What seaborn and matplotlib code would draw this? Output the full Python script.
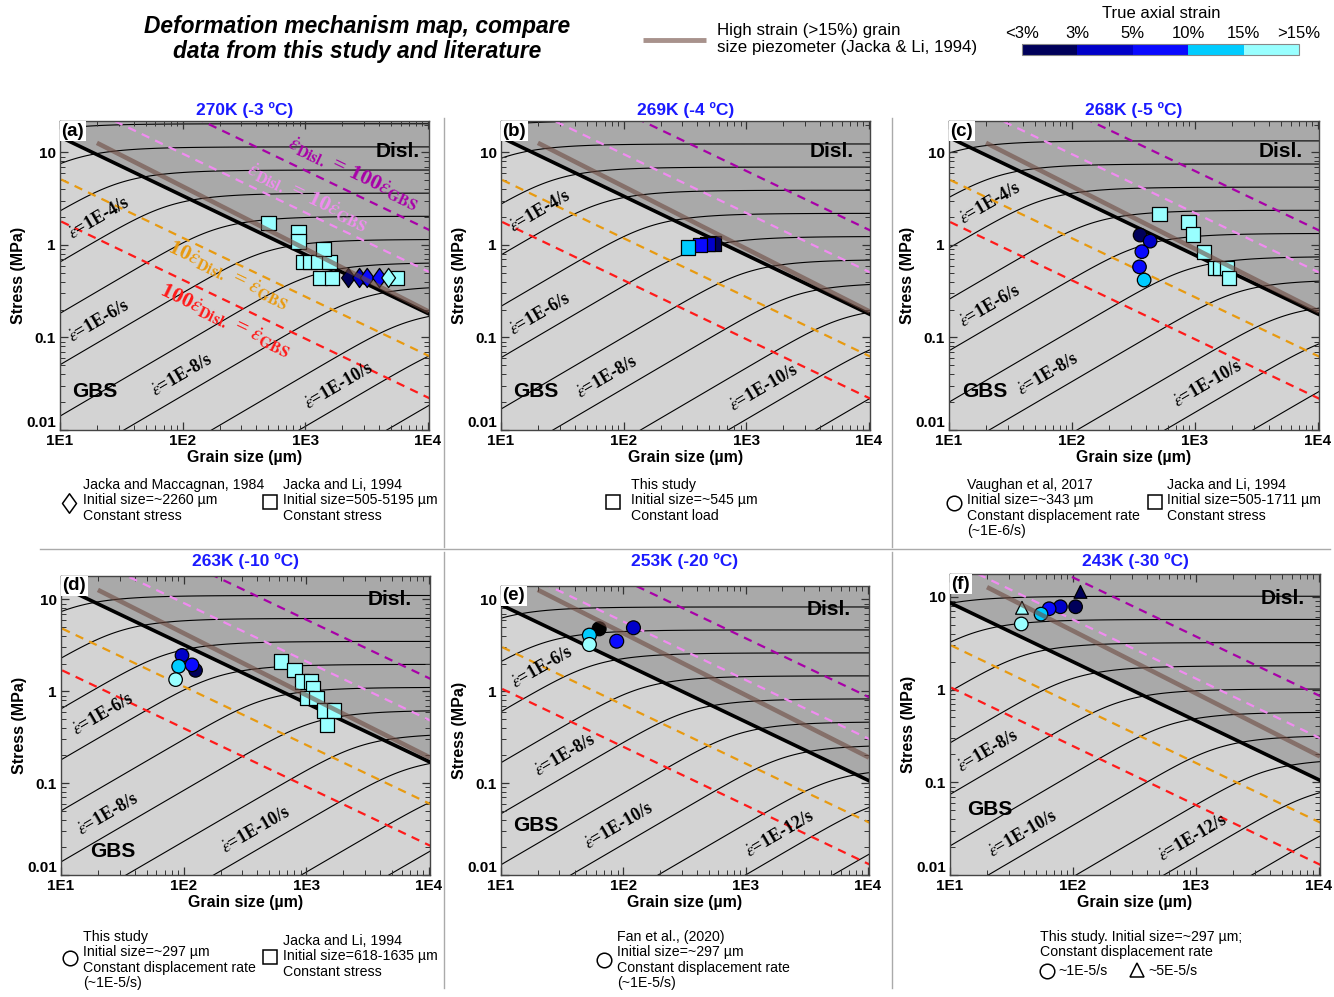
"""
Deformation mechanism maps of ice (GBS vs dislocation creep) at six temperatures,
with data from this study and the literature plotted on top.
"""

import matplotlib

matplotlib.use("Agg")
import matplotlib.colors as mcolors
import matplotlib.lines as mlines
import matplotlib.pyplot as plt
import numpy as np
import seaborn as sns
from matplotlib.cm import ScalarMappable
from matplotlib.path import Path
from matplotlib.ticker import NullFormatter

plt.rcParams["font.family"] = ["Liberation Sans", "DejaVu Sans"]
plt.rcParams["mathtext.fontset"] = "stix"

W, H = 1334, 997

# ---------------------------------------------------------------- data
panel_letters = ["(a)", "(b)", "(c)", "(d)", "(e)", "(f)"]
panel_titles = ["270K (-3 ºC)", "269K (-4 ºC)", "268K (-5 ºC)",
                "263K (-10 ºC)", "253K (-20 ºC)", "243K (-30 ºC)"]

# flow law: rate = a_disl*s^4 + b_gbs*s^1.8*(d/1000um)^-1.4  (calibrated on the maps)
a_disl = [5.73e-7, 4.28e-7, 3.15e-7, 6.72e-8, 2.13e-8, 9.5e-9]
b_gbs = [3.39e-7, 2.47e-7, 1.81e-7, 3.49e-8, 3.97e-9, 1.72e-9]
n_disl, n_gbs, p_gbs = 4.0, 1.8, 1.4

# ratio lines  rate_disl / rate_gbs
ratio_values = [100, 10, 0.1, 0.01]
ratio_colors = ["#a800a8", "#f08cf0", "#e89a10", "#ff1a1a"]
ratio_labels = [r"$\dot{\varepsilon}_{\mathbf{Disl.}}$ = 100$\dot{\varepsilon}_{\mathbf{GBS}}$",
                r"$\dot{\varepsilon}_{\mathbf{Disl.}}$ = 10$\dot{\varepsilon}_{\mathbf{GBS}}$",
                r"10$\dot{\varepsilon}_{\mathbf{Disl.}}$ = $\dot{\varepsilon}_{\mathbf{GBS}}$",
                r"100$\dot{\varepsilon}_{\mathbf{Disl.}}$ = $\dot{\varepsilon}_{\mathbf{GBS}}$"]
ratio_label_d = [2440, 1030, 234, 221]
ratio_label_s = [6.0, 3.3, 0.48, 0.153]

# high strain piezometer (Jacka & Li, 1994)
piezo_d = [20, 1.02e4]
piezo_s = [12.7, 0.19]

# strain-rate contour labels
label_rates = [[1e-4, 1e-6, 1e-8, 1e-10], [1e-4, 1e-6, 1e-8, 1e-10],
               [1e-4, 1e-6, 1e-8, 1e-10], [1e-6, 1e-8, 1e-10],
               [1e-6, 1e-8, 1e-10, 1e-12], [1e-8, 1e-10, 1e-12]]
label_d = [[13, 13, 62, 1100], [13, 13, 46, 807], [13.5, 13.5, 40, 740],
           [13.8, 15, 225], [13.5, 20.8, 53, 1100], [12.8, 23, 545]]

# strain classes
strain_bins = ["<3%", "3-5%", "5-10%", "10-15%", ">15%"]
strain_colors = ["#00005a", "#0000c8", "#0a0aff", "#00ccff", "#99ffff"]
cbar_ticklabels = ["<3%", "3%", "5%", "10%", "15%", ">15%"]
palette = dict(zip(strain_bins, strain_colors))
palette["n/a"] = "#000000"

# (a) Jacka and Li 1994 squares, Jacka and Maccagnan 1984 diamonds
a_sq_d = [501, 879, 879, 966, 1097, 1283, 1574, 1406, 1320, 1660, 5580]
a_sq_s = [1.72, 1.39, 1.09, 0.66, 0.66, 0.66, 0.66, 0.905, 0.44, 0.44, 0.44]
a_sq_e = [">15%"] * 11
a_di_d = [2250, 2770, 3200, 4030, 4780]
a_di_s = [0.44, 0.44, 0.44, 0.44, 0.44]
a_di_e = ["<3%", "3-5%", "5-10%", "5-10%", ">15%"]
# (b) this study squares
b_sq_d = [547, 483, 418, 336]
b_sq_s = [1.04, 1.03, 1.0, 0.94]
b_sq_e = ["<3%", "3-5%", "5-10%", "10-15%"]
# (c) Vaughan et al 2017 circles, Jacka and Li 1994 squares
c_ci_d = [358, 432, 370, 354, 386]
c_ci_s = [1.28, 1.10, 0.847, 0.58, 0.418]
c_ci_e = ["<3%", "3-5%", "5-10%", "5-10%", "10-15%"]
c_sq_d = [515, 887, 963, 1191, 1465, 1611, 1824, 1880]
c_sq_s = [2.15, 1.76, 1.30, 0.847, 0.56, 0.56, 0.56, 0.436]
c_sq_e = [">15%"] * 8
# (d) this study circles, Jacka and Li 1994 squares
d_ci_d = [125, 97, 117, 91, 86]
d_ci_s = [1.69, 2.46, 1.94, 1.87, 1.34]
d_ci_e = ["<3%", "3-5%", "5-10%", "10-15%", ">15%"]
d_sq_d = [624, 802, 925, 1096, 1138, 1017, 1211, 1407, 1677, 1480]
d_sq_s = [2.11, 1.69, 1.28, 1.28, 1.07, 0.847, 0.847, 0.617, 0.617, 0.428]
d_sq_e = [">15%"] * 10
# (e) Fan et al. 2020 circles
e_ci_d = [63.4, 52.8, 52.8, 88.3, 121]
e_ci_s = [4.79, 4.08, 3.23, 3.51, 4.91]
e_ci_e = ["n/a", "10-15%", ">15%", "5-10%", "3-5%"]
# (f) this study, circles ~1E-5/s and triangles ~5E-5/s
f_ci_d = [105, 79, 64, 55, 38]
f_ci_s = [7.8, 7.8, 7.43, 6.5, 5.09]
f_ci_e = ["<3%", "3-5%", "5-10%", "10-15%", ">15%"]
f_tr_d = [38.5, 115]
f_tr_s = [7.6, 11.3]
f_tr_e = [">15%", "<3%"]

diamond = Path([(0, 1), (0.72, 0), (0, -1), (-0.72, 0), (0, 1)],
               [Path.MOVETO, Path.LINETO, Path.LINETO, Path.LINETO, Path.CLOSEPOLY])

panel_points = [
    [("s", a_sq_d, a_sq_s, a_sq_e, 105), (diamond, a_di_d, a_di_s, a_di_e, 190)],
    [("s", b_sq_d, b_sq_s, b_sq_e, 105)],
    [("o", c_ci_d, c_ci_s, c_ci_e, 95), ("s", c_sq_d, c_sq_s, c_sq_e, 105)],
    [("o", d_ci_d, d_ci_s, d_ci_e, 95), ("s", d_sq_d, d_sq_s, d_sq_e, 105)],
    [("o", e_ci_d, e_ci_s, e_ci_e, 100)],
    [("o", f_ci_d, f_ci_s, f_ci_e, 95), ("^", f_tr_d, f_tr_s, f_tr_e, 85)],
]

# layout (pixels)
ax_left = [60, 501, 949, 61, 501, 950]
ax_top = [121, 121, 121, 576, 586, 574]
ax_bottom = [430, 430, 430, 875, 875, 875]
ax_width = [369, 369, 370, 369, 368, 370]
title_y = [110, 110, 110, 561, 561, 561]
y_max = [21.9, 21.9, 21.9, 18.0, 14.0, 17.6]
disl_xy = [(0.975, 0.9), (0.955, 0.9), (0.957, 0.9), (0.95, 0.92), (0.95, 0.917), (0.96, 0.92)]
gbs_xy = [(0.033, 0.123), (0.033, 0.123), (0.035, 0.123), (0.079, 0.077), (0.033, 0.17), (0.046, 0.216)]

LIGHT, DARK = "#d3d3d3", "#a9a9a9"
PIEZO = "#6e4a40"


def flow_rate(d, s, a_d, b_g):
    return a_d * s ** n_disl + b_g * s ** n_gbs * (d / 1000.0) ** -p_gbs


def ratio_stress(d, ratio, a_d, b_g):
    d = np.asarray(d, dtype=float)
    return (ratio * b_g / a_d) ** (1 / (n_disl - n_gbs)) * (d / 1000.0) ** (-p_gbs / (n_disl - n_gbs))


def stress_at_rate(rate, d, a_d, b_g):
    s = np.logspace(-5, 3, 4000)
    r = flow_rate(d, s, a_d, b_g)
    return 10 ** np.interp(np.log10(rate), np.log10(r), np.log10(s))


def display_angle(ax, x0, y0, x1, y1):
    p0 = ax.transData.transform((x0, y0))
    p1 = ax.transData.transform((x1, y1))
    return np.degrees(np.arctan2(p1[1] - p0[1], p1[0] - p0[0]))


def fx(px):
    return px / W


def fy(py):
    return 1 - py / H


fig = plt.figure(figsize=(W / 100, H / 100), dpi=100)

d_grid = np.logspace(0.9, 4.1, 500)
s_grid = np.logspace(-2.3, 1.6, 500)
DG, SG = np.meshgrid(d_grid, s_grid)
levels = [10.0 ** k for k in range(-16, 3)]

for i in range(6):
    a_d, b_g = a_disl[i], b_gbs[i]
    ax = fig.add_axes([ax_left[i] / W, 1 - ax_bottom[i] / H, ax_width[i] / W,
                       (ax_bottom[i] - ax_top[i]) / H])
    ax.set_xscale("log")
    ax.set_yscale("log")
    ax.set_xlim(10, 1.02e4)
    ax.set_ylim(0.01, y_max[i])
    ax.set_facecolor(LIGHT)

    # dislocation creep field
    bnd = ratio_stress(d_grid, 1.0, a_d, b_g)
    ax.fill_between(d_grid, bnd, 100, color=DARK, lw=0, zorder=0)

    # strain-rate contours
    ax.contour(DG, SG, flow_rate(DG, SG, a_d, b_g), levels=levels,
               colors="black", linewidths=0.8, zorder=1)

    # ratio lines
    for r, c in zip(ratio_values, ratio_colors):
        ax.plot(d_grid, ratio_stress(d_grid, r, a_d, b_g), color=c, lw=1.6,
                dashes=(3.8, 2.9), zorder=2)

    # mechanism boundary
    ax.plot(d_grid, bnd, color="black", lw=2.6, zorder=3)

    # data
    for marker, xs, ys, es, size in panel_points[i]:
        sns.scatterplot(x=xs, y=ys, hue=es, palette=palette, marker=marker, s=size,
                        edgecolor="black", linewidth=0.9, legend=False, ax=ax, zorder=4)

    # piezometer
    ax.plot(piezo_d, piezo_s, color=PIEZO, lw=3.3, alpha=0.6, solid_capstyle="butt", zorder=5)

    # contour labels
    for rate, dl in zip(label_rates[i], label_d[i]):
        s0 = stress_at_rate(rate, dl, a_d, b_g)
        s1 = stress_at_rate(rate, dl * 1.1, a_d, b_g)
        ang = display_angle(ax, dl, s0, dl * 1.1, s1)
        p = ax.transData.transform((dl, s0))
        xd, yd = ax.transData.inverted().transform(p + np.array([0.0, 11.0]))
        exp = int(round(np.log10(rate)))
        ax.text(xd, yd, r"$\dot{\varepsilon}$=1E%d/s" % exp, rotation=ang,
                rotation_mode="anchor", ha="left", va="bottom", fontsize=13,
                family="Liberation Serif", weight="bold", zorder=6)

    # ratio labels on the first map
    if i == 0:
        for r, c, lab, xl, yl in zip(ratio_values, ratio_colors, ratio_labels,
                                     ratio_label_d, ratio_label_s):
            ang = display_angle(ax, xl, ratio_stress(xl, r, a_d, b_g),
                                xl * 1.2, ratio_stress(xl * 1.2, r, a_d, b_g))
            ax.text(xl, yl, lab, color=c, rotation=ang, rotation_mode="anchor",
                    ha="center", va="center", fontsize=16, family="Liberation Serif",
                    weight="bold", zorder=6)

    ax.text(*disl_xy[i], "Disl.", transform=ax.transAxes, ha="right", va="center",
            fontsize=15, weight="bold", zorder=7)
    ax.text(*gbs_xy[i], "GBS", transform=ax.transAxes, ha="left", va="center",
            fontsize=15, weight="bold", zorder=7)
    ax.text(0.004, 0.995, panel_letters[i], transform=ax.transAxes, ha="left", va="top",
            fontsize=13.5, weight="bold", zorder=8,
            bbox=dict(facecolor="white", edgecolor="none", pad=1.2))

    fig.text(fx(ax_left[i] + ax_width[i] / 2), fy(title_y[i]), panel_titles[i],
             color="#1a1aff", fontsize=12.5, weight="bold", ha="center", va="center")
    ax.set_xticks([10, 100, 1000, 10000])
    ax.set_xticklabels(["1E1", "1E2", "1E3", "1E4"], fontsize=11, weight="bold")
    ax.set_yticks([0.01, 0.1, 1, 10])
    ax.set_yticklabels(["0.01", "0.1", "1", "10"], fontsize=11, weight="bold")
    ax.get_yticklabels()[0].set_va("bottom")
    ax.xaxis.set_minor_formatter(NullFormatter())
    ax.yaxis.set_minor_formatter(NullFormatter())
    ax.tick_params(which="both", direction="in", top=True, right=True, color="#333333")
    ax.tick_params(which="major", length=6, width=0.9, pad=3)
    ax.tick_params(which="minor", length=3.5, width=0.7)
    ax.set_xlabel("Grain size (µm)", fontsize=11.5, weight="bold", labelpad=1)
    ax.set_ylabel("Stress (MPa)", fontsize=11.5, weight="bold", labelpad=0)
    for sp in ax.spines.values():
        sp.set_color("#444444")
        sp.set_linewidth(1.0)


def legend_marker(x, y, marker, ms):
    fig.add_artist(mlines.Line2D([fx(x)], [fy(y)], marker=marker, ms=ms, mfc="white",
                                 mec="black", mew=1.1, ls="none", transform=fig.transFigure))


def legend_text(x, y, txt):
    fig.text(fx(x), fy(y), txt, ha="left", va="top", fontsize=10.2, linespacing=1.12)


# legends under the maps
legend_marker(69, 503, diamond, 14)
legend_text(83, 478, "Jacka and Maccagnan, 1984\nInitial size=~2260 µm\nConstant stress")
legend_marker(270, 502, "s", 10.5)
legend_text(283, 478, "Jacka and Li, 1994\nInitial size=505-5195 µm\nConstant stress")
legend_marker(613, 502, "s", 10.5)
legend_text(631, 478, "This study\nInitial size=~545 µm\nConstant load")
legend_marker(954, 503, "o", 10.5)
legend_text(967, 478, "Vaughan et al, 2017\nInitial size=~343 µm\nConstant displacement rate\n(~1E-6/s)")
legend_marker(1155, 502, "s", 10.5)
legend_text(1167, 478, "Jacka and Li, 1994\nInitial size=505-1711 µm\nConstant stress")
legend_marker(70, 958, "o", 10.5)
legend_text(83, 930, "This study\nInitial size=~297 µm\nConstant displacement rate\n(~1E-5/s)")
legend_marker(270, 957, "s", 10.5)
legend_text(283, 934, "Jacka and Li, 1994\nInitial size=618-1635 µm\nConstant stress")
legend_marker(604, 960, "o", 10.5)
legend_text(617, 930, "Fan et al., (2020)\nInitial size=~297 µm\nConstant displacement rate\n(~1E-5/s)")
legend_text(1040, 930, "This study. Initial size=~297 µm;\nConstant displacement rate")
legend_marker(1047, 971, "o", 10.5)
fig.text(fx(1058), fy(971), "~1E-5/s", ha="left", va="center", fontsize=10.2)
legend_marker(1137, 970, "^", 10.5)
fig.text(fx(1148), fy(971), "~5E-5/s", ha="left", va="center", fontsize=10.2)

# separators
sep = "#aaaaaa"
fig.add_artist(mlines.Line2D([fx(40), fx(1330)], [fy(549), fy(549)], color=sep, lw=1))
for xs in (444, 892):
    fig.add_artist(mlines.Line2D([fx(xs), fx(xs)], [fy(118), fy(547)], color=sep, lw=1))
    fig.add_artist(mlines.Line2D([fx(xs), fx(xs)], [fy(552), fy(988)], color=sep, lw=1))

# header
fig.text(fx(357), fy(39), "Deformation mechanism map, compare\ndata from this study and literature",
         ha="center", va="center", fontsize=16.4, weight="bold", style="italic", linespacing=1.15)
fig.add_artist(mlines.Line2D([fx(643), fx(706)], [fy(40), fy(40)], color=PIEZO, lw=3.5,
                             alpha=0.6, solid_capstyle="butt"))
fig.text(fx(717), fy(39), "High strain (>15%) grain\nsize piezometer (Jacka & Li, 1994)",
         ha="left", va="center", fontsize=12.2, linespacing=1.1)

cax = fig.add_axes([fx(1022), fy(55), 277 / W, 11 / H])
cmap = mcolors.ListedColormap(strain_colors)
norm = mcolors.BoundaryNorm(np.arange(6), cmap.N)
cb = fig.colorbar(ScalarMappable(norm=norm, cmap=cmap), cax=cax, orientation="horizontal",
                  ticks=np.arange(6))
cb.ax.xaxis.set_ticks_position("top")
cb.ax.set_xticklabels(cbar_ticklabels, fontsize=12)
cb.ax.tick_params(length=0, pad=2)
cb.outline.set_edgecolor("#888888")
cb.outline.set_linewidth(0.8)
fig.text(fx(1161), fy(14), "True axial strain", ha="center", va="center", fontsize=12)

fig.savefig("out.png", dpi=100)
